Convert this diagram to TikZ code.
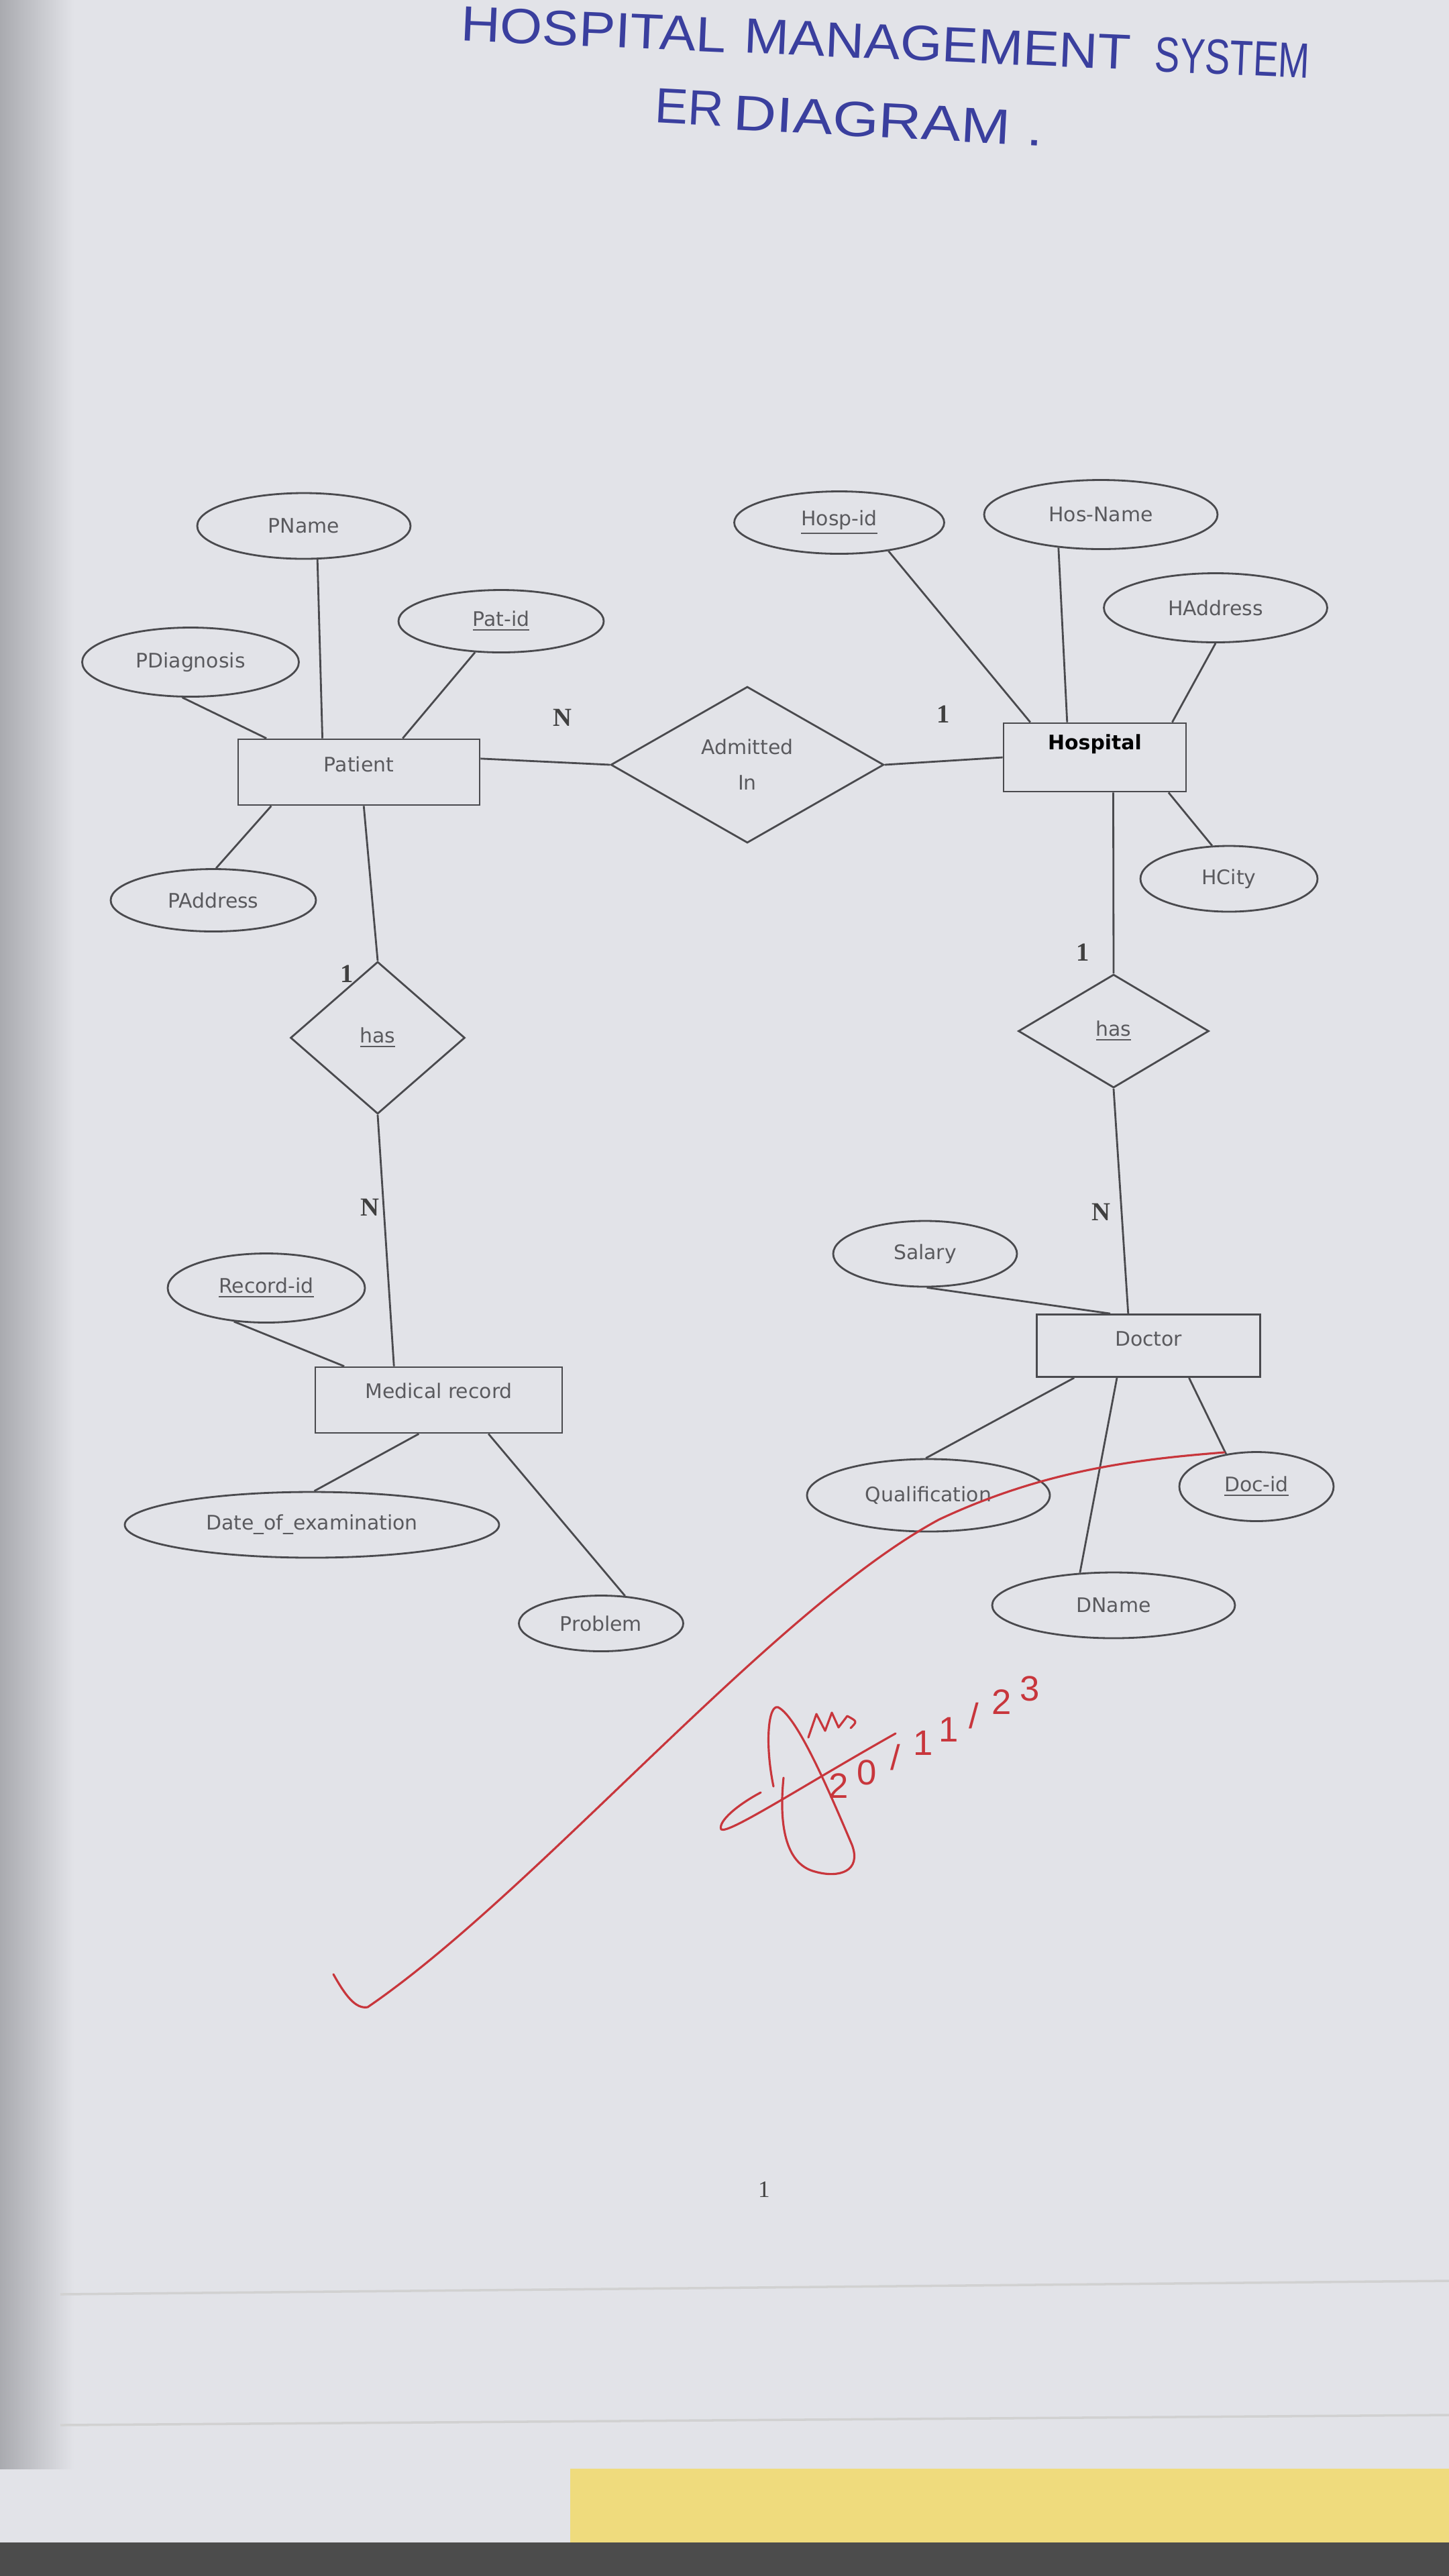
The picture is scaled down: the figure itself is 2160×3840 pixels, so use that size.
\documentclass[tikz,border=0pt]{standalone}
\usepackage{fontspec}
\setmainfont{DejaVu Sans}
\newfontfamily\cardf{Liberation Serif}
\newfontfamily\titlef{Liberation Sans}
\usetikzlibrary{shapes.geometric,calc}
\definecolor{paper}{HTML}{E2E3E8}
\definecolor{shadowc}{HTML}{A9AAAF}
\definecolor{linec}{HTML}{4A4A4E}
\definecolor{textc}{HTML}{5A5A5E}
\definecolor{titlec}{HTML}{3A3F9E}
\definecolor{redink}{HTML}{C8363C}
\newcommand\attrfont{\fontsize{8.5}{10}\selectfont}
\tikzset{
  ent/.style={draw=linec, line width=0.8pt, rectangle, inner sep=0pt},
  attr/.style={draw=linec, line width=0.8pt, ellipse, inner sep=0pt, font=\attrfont, text=textc},
  rel/.style={draw=linec, line width=0.8pt, diamond, inner sep=0pt, font=\attrfont, text=textc, align=center},
  conn/.style={draw=linec, line width=0.8pt},
  card/.style={font=\cardf\bfseries\fontsize{11}{12}\selectfont, text=black!75},
  lbl/.style={font=\attrfont, text=textc, inner sep=0pt},
  titletext/.style={font=\titlef\fontsize{21}{24}\selectfont, text=titlec, inner sep=0pt},
  redpen/.style={draw=redink, line width=0.9pt, line cap=round, line join=round},
  datechar/.style={font=\titlef\fontsize{15}{16}\selectfont, text=redink, inner sep=0pt}
}
\begin{document}
\begin{tikzpicture}[x=0.1mm,y=-0.1mm]
\useasboundingbox (0,0) rectangle (2160,3840);
% page
\fill[paper] (0,0) rectangle (2160,3840);
\fill[left color=shadowc, right color=paper] (0,0) rectangle (110,3680);
\draw[black!18, line width=1pt] (90,3420) -- (2160,3400);
\draw[black!18, line width=1pt] (90,3615) -- (2160,3600);
\fill[yellow!55!brown!60] (850,3680) rectangle (2160,3790);
\fill[black!70] (0,3790) rectangle (2160,3840);

% title
\node[titletext, rotate=-2.5, xscale=1.1] (t1a) at (885,44) {HOSPITAL};
\node[titletext, rotate=-2.5, xscale=1.09] (t1b) at (1398,66) {MANAGEMENT};
\node[titletext, rotate=-2.5, xscale=0.76] (t1c) at (1837,86) {SYSTEM};
\node[titletext, rotate=-3] (t2a) at (1028,160) {ER};
\node[titletext, rotate=-3, xscale=1.2] (t2b) at (1325,180) {DIAGRAM .};

% entities
\node[ent, minimum width=36mm, minimum height=9.8mm, label={[lbl,yshift=1.2mm]center:Patient}] (patient) at (535,1151) {};
\node[ent, minimum width=27.2mm, minimum height=10.2mm, label={[lbl,yshift=2mm,text=black,font=\attrfont\bfseries]center:Hospital}] (hospital) at (1632,1129) {};
\node[ent, minimum width=36.8mm, minimum height=9.8mm, label={[lbl,yshift=1.4mm]center:Medical record}] (medrec) at (654,2087) {};
\node[ent, minimum width=33.3mm, minimum height=9.3mm, label={[lbl,yshift=1mm]center:Doctor}] (doctor) at (1712,2006) {};

% relationships
\node[rel, minimum width=40.7mm, minimum height=23.3mm] (admit) at (1114,1140) {Admitted\\[1.8mm] In};
\node[rel, minimum width=26mm, minimum height=22.7mm] (hasl) at (563,1547) {\underline{has}};
\node[rel, minimum width=28.4mm, minimum height=16.9mm] (hasr) at (1660,1537) {\underline{has}};

% attributes
\node[attr, minimum width=31.8mm, minimum height=9.8mm] (pname) at (453,784) {PName};
\node[attr, minimum width=30.6mm, minimum height=9.3mm] (patid) at (747,926) {\underline{Pat-id}};
\node[attr, minimum width=32.3mm, minimum height=10.3mm] (pdiag) at (284,987) {PDiagnosis};
\node[attr, minimum width=30.6mm, minimum height=9.3mm] (paddr) at (318,1342) {PAddress};
\node[attr, minimum width=31.3mm, minimum height=9.3mm] (hospid) at (1251,779) {\underline{Hosp-id}};
\node[attr, minimum width=34.8mm, minimum height=10.3mm] (hosname) at (1641,767) {Hos-Name};
\node[attr, minimum width=33.3mm, minimum height=10.3mm] (haddr) at (1812,906) {HAddress};
\node[attr, minimum width=26.4mm, minimum height=9.8mm] (hcity) at (1832,1310) {HCity};
\node[attr, minimum width=29.4mm, minimum height=10.3mm] (recid) at (397,1920) {\underline{Record-id}};
\node[attr, minimum width=55.8mm, minimum height=9.8mm] (doe) at (465,2273) {Date\_of\_examination};
\node[attr, minimum width=24.5mm, minimum height=8.3mm] (problem) at (896,2420) {Problem};
\node[attr, minimum width=27.4mm, minimum height=9.8mm] (salary) at (1379,1869) {Salary};
\node[attr, minimum width=36.2mm, minimum height=10.8mm] (qual) at (1384,2229) {Qualification};
\node[attr, minimum width=23mm, minimum height=10.3mm] (docid) at (1873,2216) {\underline{Doc-id}};
\node[attr, minimum width=36.2mm, minimum height=9.8mm] (dname) at (1660,2393) {DName};

% connectors: Patient
\draw[conn] (pname.-68) -- ($(patient.north west)!0.35!(patient.north east)$);
\draw[conn] (pdiag.-103) -- ($(patient.north west)!0.12!(patient.north east)$);
\draw[conn] (patid.-130) -- ($(patient.north west)!0.68!(patient.north east)$);
\draw[conn] (paddr.85) -- ($(patient.south west)!0.14!(patient.south east)$);
\draw[conn] ($(patient.north east)!0.3!(patient.south east)$) -- (admit.west);
\draw[conn] ($(patient.south west)!0.52!(patient.south east)$) -- (hasl.north);
\draw[conn] (hasl.south) -- ($(medrec.north west)!0.32!(medrec.north east)$);
% Medical record
\draw[conn] (recid.-134) -- ($(medrec.north west)!0.12!(medrec.north east)$);
\draw[conn] ($(medrec.south west)!0.42!(medrec.south east)$) -- (doe.86);
\draw[conn] ($(medrec.south west)!0.70!(medrec.south east)$) -- (problem.49);
% Hospital
\draw[conn] (admit.east) -- (hospital.west);
\draw[conn] (hospid.-30) -- ($(hospital.north west)!0.15!(hospital.north east)$);
\draw[conn] (hosname.-142) -- ($(hospital.north west)!0.35!(hospital.north east)$);
\draw[conn] (haddr.south) -- ($(hospital.north west)!0.92!(hospital.north east)$);
\draw[conn] ($(hospital.south west)!0.90!(hospital.south east)$) -- (hcity.117);
\draw[conn] ($(hospital.south west)!0.60!(hospital.south east)$) -- (hasr.north);
\draw[conn] (hasr.south) -- ($(doctor.north west)!0.41!(doctor.north east)$);
% Doctor
\draw[conn] (salary.-87) -- ($(doctor.north west)!0.33!(doctor.north east)$);
\draw[conn] ($(doctor.south west)!0.17!(doctor.south east)$) -- (qual.94);
\draw[conn] ($(doctor.south west)!0.36!(doctor.south east)$) -- (dname.136);
\draw[conn] ($(doctor.south west)!0.68!(doctor.south east)$) -- (docid.133);

% cardinalities
\node[card] (cn1) at (838,1070) {N};
\node[card] (c11) at (1406,1065) {1};
\node[card] (c12) at (517,1452) {1};
\node[card] (cn2) at (551,1800) {N};
\node[card] (c13) at (1614,1420) {1};
\node[card] (cn3) at (1641,1807) {N};

% red tick
\draw[redpen] (497,2943) .. controls (515,2975) and (530,2995) .. (548,2992)
  .. controls (800,2820) and (1150,2400) .. (1400,2265)
  .. controls (1560,2190) and (1700,2175) .. (1825,2165);
% signature
\draw[redpen] (1134,2672) .. controls (1100,2690) and (1070,2715) .. (1075,2727)
  .. controls (1085,2735) and (1200,2660) .. (1335,2584);
\draw[redpen] (1153,2663) .. controls (1140,2600) and (1145,2540) .. (1160,2545)
  .. controls (1190,2560) and (1240,2680) .. (1270,2750)
  .. controls (1285,2790) and (1250,2800) .. (1215,2790)
  .. controls (1175,2780) and (1160,2730) .. (1168,2650);
\draw[redpen] (1205,2590) -- (1217,2555) -- (1230,2580) -- (1240,2553) -- (1250,2575) -- (1263,2558) .. controls (1278,2566) .. (1268,2576);
% date
\node[datechar] (d1) at (1250,2662) {2};
\node[datechar] (d2) at (1292,2642) {0};
\node[datechar] (d3) at (1335,2620) {/};
\node[datechar] (d4) at (1376,2598) {1};
\node[datechar] (d5) at (1414,2578) {1};
\node[datechar] (d6) at (1452,2558) {/};
\node[datechar] (d7) at (1493,2537) {2};
\node[datechar] (d8) at (1535,2517) {3};

% page number
\node[font=\cardf\fontsize{10}{12}\selectfont, text=black!75] (pageno) at (1139,3264) {1};
\end{tikzpicture}
\end{document}
